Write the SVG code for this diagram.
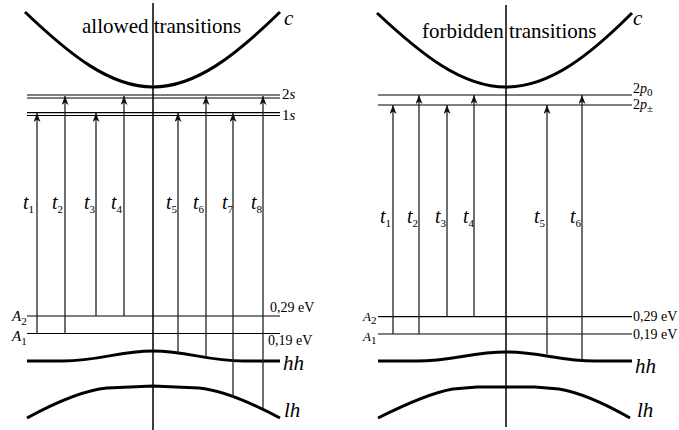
<svg xmlns="http://www.w3.org/2000/svg" width="679" height="430" viewBox="0 0 679 430">
<style>
.bg{fill:#fff}
.axis{stroke:#000;stroke-width:1.5;fill:none}
.band{stroke:#000;stroke-width:3;fill:none;stroke-linejoin:round}
.lvl{stroke:#000;stroke-width:1.2;fill:none}
.arr{stroke:#222;stroke-width:1.3;fill:none;marker-end:url(#ah)}
text{font-family:'Liberation Serif','Times New Roman',serif;fill:#000}
.title{font-size:21px}
.it{font-style:italic}
.t{font-style:italic;font-size:20px}
.sub{font-style:normal;font-size:11px}
.ev{font-size:14px}
</style>
<defs>
<marker id="ah" viewBox="0 0 9 7" refX="9" refY="3.5" markerWidth="9" markerHeight="7" orient="auto" markerUnits="userSpaceOnUse">
<path d="M0,0 L9,3.5 L0,7 L2.5,3.5 z" fill="#111"/>
</marker>
</defs>
<rect class="bg" x="0" y="0" width="679" height="430"/>

<!-- LEFT PANEL -->
<g id="left-axis"><line class="axis" x1="153" y1="3" x2="153" y2="430"/></g>
<g id="left-title"><text class="title" x="82" y="33">allowed transitions</text></g>
<g id="left-c">
<path class="band" d="M25,12 C70,55 110,87 153,87 C196,87 236,55 280,12"/>
<text class="it" x="284" y="25" font-size="21">c</text>
</g>
<g id="left-2s">
<line class="lvl" x1="27" y1="95" x2="280" y2="95"/>
<line class="lvl" x1="27" y1="98" x2="280" y2="98"/>
<text x="282" y="99" font-size="15">2<tspan font-style="italic">s</tspan></text>
</g>
<g id="left-1s">
<line class="lvl" x1="27" y1="112.7" x2="280" y2="112.7"/>
<line class="lvl" x1="27" y1="115.5" x2="280" y2="115.5"/>
<text x="282" y="120" font-size="15">1<tspan font-style="italic">s</tspan></text>
</g>
<g id="left-A2">
<line class="lvl" x1="27" y1="316" x2="280" y2="316"/>
<text class="it" x="12" y="321" font-size="15">A<tspan class="sub" dy="4">2</tspan></text>
<text class="ev" x="270" y="312">0,29 eV</text>
</g>
<g id="left-A1">
<line class="lvl" x1="27" y1="333.5" x2="280" y2="333.5"/>
<text class="it" x="12" y="341" font-size="15">A<tspan class="sub" dy="4">1</tspan></text>
<text class="ev" x="268" y="345">0,19 eV</text>
</g>
<g id="left-hh">
<path class="band" d="M27,361 L63,361 C100,361 118,351 153,351 C188,351 206,361 243,361 L280,361"/>
<text class="it" x="283" y="370" font-size="21">hh</text>
</g>
<g id="left-lh">
<path class="band" d="M27,418 C60,400 85,390 107,388 L153,386 L199,388 C221,390 246,400 280,418"/>
<text class="it" x="284" y="417" font-size="21">lh</text>
</g>
<g id="left-labels">
<text class="t" x="23" y="209">t<tspan class="sub" dy="4">1</tspan></text>
<text class="t" x="52" y="209">t<tspan class="sub" dy="4">2</tspan></text>
<text class="t" x="84" y="209">t<tspan class="sub" dy="4">3</tspan></text>
<text class="t" x="111" y="209">t<tspan class="sub" dy="4">4</tspan></text>
<text class="t" x="166" y="209">t<tspan class="sub" dy="4">5</tspan></text>
<text class="t" x="193" y="209">t<tspan class="sub" dy="4">6</tspan></text>
<text class="t" x="222" y="209">t<tspan class="sub" dy="4">7</tspan></text>
<text class="t" x="251" y="209">t<tspan class="sub" dy="4">8</tspan></text>
</g>

<!-- RIGHT PANEL -->
<g id="right-axis"><line class="axis" x1="506" y1="5" x2="506" y2="427"/></g>
<g id="right-title"><text class="title" x="422" y="38">forbidden transitions</text></g>
<g id="right-c">
<path class="band" d="M377,13 C422,55 462,87 506,87 C550,87 590,55 632,13"/>
<text class="it" x="633" y="25" font-size="21">c</text>
</g>
<g id="right-2p0">
<line class="lvl" x1="378" y1="95" x2="632" y2="95"/>
<text x="633" y="93" font-size="14">2<tspan font-style="italic">p</tspan><tspan class="sub" dy="3" font-size="9">0</tspan></text>
</g>
<g id="right-2ppm">
<line class="lvl" x1="378" y1="105" x2="632" y2="105"/>
<text x="633" y="109" font-size="14">2<tspan font-style="italic">p</tspan><tspan class="sub" dy="3" font-size="9">±</tspan></text>
</g>
<g id="right-A2">
<line class="lvl" x1="378" y1="316.7" x2="632" y2="316.7"/>
<text class="it" x="363" y="321" font-size="13">A<tspan class="sub" dy="3" font-size="9">2</tspan></text>
<text class="ev" x="633" y="321">0,29 eV</text>
</g>
<g id="right-A1">
<line class="lvl" x1="378" y1="334" x2="632" y2="334"/>
<text class="it" x="363" y="341" font-size="13">A<tspan class="sub" dy="3" font-size="9">1</tspan></text>
<text class="ev" x="633" y="339">0,19 eV</text>
</g>
<g id="right-hh">
<path class="band" d="M378,361 L417,361 C452,361 472,352 506,352 C540,352 560,361 595,361 L632,361"/>
<text class="it" x="635" y="373" font-size="21">hh</text>
</g>
<g id="right-lh">
<path class="band" d="M378,418 C410,402 435,392 453,389 L477,387 L535,387 L559,389 C577,392 602,402 630,418"/>
<text class="it" x="637" y="417" font-size="21">lh</text>
</g>
<g id="right-labels">
<text class="t" x="380" y="223">t<tspan class="sub" dy="4">1</tspan></text>
<text class="t" x="407" y="223">t<tspan class="sub" dy="4">2</tspan></text>
<text class="t" x="435" y="223">t<tspan class="sub" dy="4">3</tspan></text>
<text class="t" x="463" y="223">t<tspan class="sub" dy="4">4</tspan></text>
<text class="t" x="534" y="223">t<tspan class="sub" dy="4">5</tspan></text>
<text class="t" x="570" y="223">t<tspan class="sub" dy="4">6</tspan></text>
</g>

<!-- CONNECTORS -->
<g id="connectors">
<line class="arr" x1="37" y1="333.5" x2="37" y2="113"/>
<line class="arr" x1="65" y1="333.5" x2="65" y2="96"/>
<line class="arr" x1="96" y1="316" x2="96" y2="113"/>
<line class="arr" x1="124" y1="316" x2="124" y2="96"/>
<line class="arr" x1="178" y1="353" x2="178" y2="113"/>
<line class="arr" x1="206" y1="357" x2="206" y2="96"/>
<line class="arr" x1="233" y1="397" x2="233" y2="113"/>
<line class="arr" x1="263" y1="408" x2="263" y2="96"/>
<line class="arr" x1="393" y1="334" x2="393" y2="105"/>
<line class="arr" x1="419" y1="334" x2="419" y2="95"/>
<line class="arr" x1="447" y1="316.7" x2="447" y2="105"/>
<line class="arr" x1="474" y1="316.7" x2="474" y2="95"/>
<line class="arr" x1="547" y1="354" x2="547" y2="105"/>
<line class="arr" x1="582" y1="360" x2="582" y2="95"/>
</g>
</svg>
